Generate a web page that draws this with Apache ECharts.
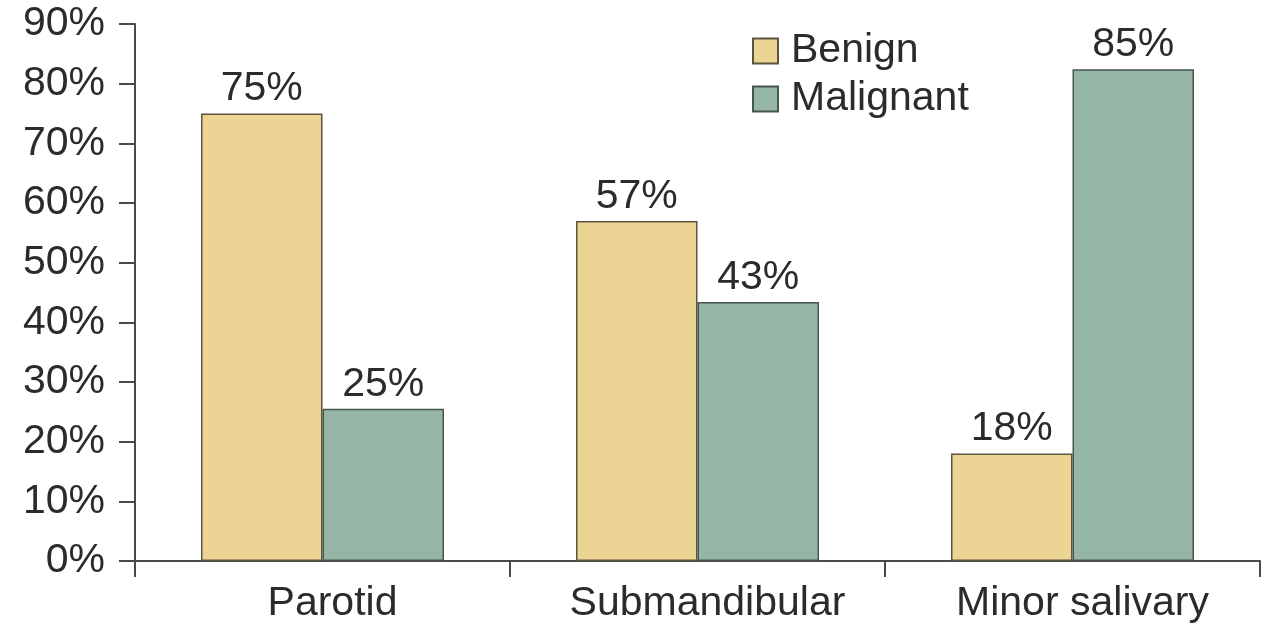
<!DOCTYPE html>
<html>
<head>
<meta charset="utf-8">
<script src="https://cdn.jsdelivr.net/npm/echarts@6/dist/echarts.min.js"></script>
<style>
  html, body { margin: 0; padding: 0; background: #fff; }
  #main { width: 1264px; height: 624px; }
</style>
</head>
<body>
<div id="main"></div>
<script>
// data
const categories = ['Parotid', 'Submandibular', 'Minor salivary'];
const benign = [75, 57, 18];
const malignant = [25.5, 43.4, 82.4];
// printed labels (the 85% bar is drawn lower than its label)
const benignLabels = ['75%', '57%', '18%'];
const malignantLabels = ['25%', '43%', '85%'];

const font = 'Liberation Sans, Arial, Helvetica, sans-serif';
const textColor = '#2b2b2b';
const axisColor = '#4a4a4a';

let myChart = echarts.init(document.getElementById('main'));
myChart.setOption({
  animation: false,
  textStyle: { fontFamily: font },
  grid: { left: 135, right: 4, top: 24, bottom: 62, containLabel: false },
  legend: {
    orient: 'vertical',
    left: 747,
    top: 23,
    itemWidth: 25,
    itemHeight: 25,
    itemGap: 2,
    icon: 'rect',
    textStyle: { fontSize: 41, color: textColor, fontFamily: font, lineHeight: 46, padding: [0, 0, 0, 8] },
    data: ['Benign', 'Malignant']
  },
  xAxis: {
    type: 'category',
    data: categories,
    axisLine: { lineStyle: { color: axisColor, width: 2 } },
    axisTick: { show: true, length: 16, lineStyle: { color: axisColor, width: 2 } },
    axisLabel: { fontSize: 41, color: textColor, margin: 22, padding: [0, 0, 0, 20] }
  },
  yAxis: {
    type: 'value',
    min: 0,
    max: 90,
    interval: 10,
    splitLine: { show: false },
    axisLine: { show: true, lineStyle: { color: axisColor, width: 2 } },
    axisTick: { show: true, length: 16, lineStyle: { color: axisColor, width: 2 } },
    axisLabel: { fontSize: 41, color: textColor, margin: 30, formatter: '{value}%' }
  },
  series: [
    {
      name: 'Benign',
      type: 'bar',
      data: benign,
      barWidth: '32.4%',
      barGap: '0%',
      itemStyle: { color: '#ecd494', borderColor: '#5b5540', borderWidth: 1.5 },
      label: {
        show: true,
        position: 'top',
        distance: 4,
        fontSize: 41,
        color: textColor,
        formatter: p => benignLabels[p.dataIndex]
      }
    },
    {
      name: 'Malignant',
      type: 'bar',
      data: malignant,
      barWidth: '32.4%',
      itemStyle: { color: '#95b6a6', borderColor: '#46564c', borderWidth: 1.5 },
      label: {
        show: true,
        position: 'top',
        distance: 4,
        fontSize: 41,
        color: textColor,
        formatter: p => malignantLabels[p.dataIndex]
      }
    }
  ]
});
</script>
</body>
</html>
